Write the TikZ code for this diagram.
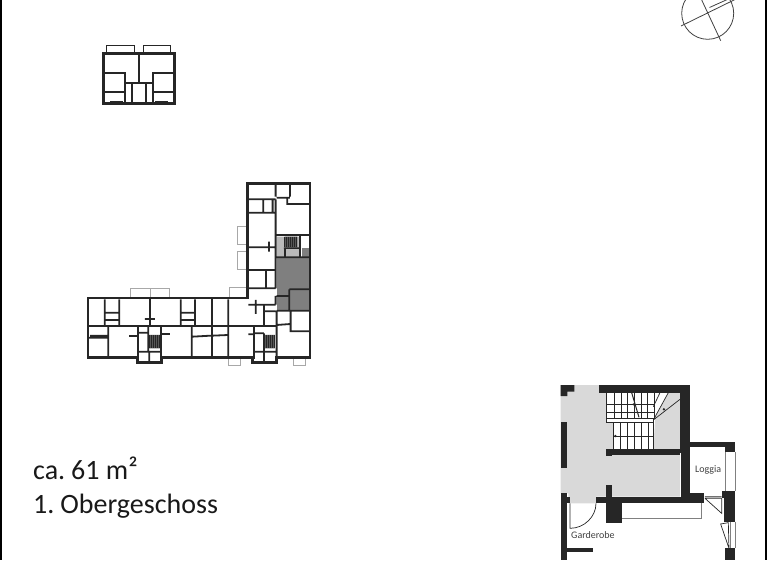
\documentclass[tikz,border=0pt]{standalone}
\usepackage{fontspec}
\setmainfont{Carlito}
\definecolor{wall}{HTML}{262626}
\definecolor{dk}{HTML}{7F7F7F}
\definecolor{lg}{HTML}{D9D9D9}
\definecolor{mg}{HTML}{B9B9B9}
\definecolor{bal}{HTML}{A8A8A8}
\tikzset{
 outer/.style={draw=wall,line width=2.8pt,line cap=rect},
 inner/.style={draw=wall,line width=1.8pt},
 balc/.style={draw=bal,line width=.9pt},
 thinb/.style={draw=wall,line width=.7pt},
 blk/.style={fill=wall,draw=none},
 big/.style={font=\fontsize{28}{28}\selectfont,anchor=base west,inner sep=0pt,text=black!90},
 small/.style={font=\fontsize{10}{10}\selectfont,text=black!75,anchor=base west,inner sep=0pt}
}
\begin{document}
\begin{tikzpicture}[x=1pt,y=-1pt]
\useasboundingbox (0,0) rectangle (768,560);
\clip (0,0) rectangle (768,560);
\draw[black,line width=1.2pt] (1,0)--(1,560) (766,0)--(766,560);
% compass
\draw[draw=black!75,line width=.8pt] (707.7,13.3) circle (26);
\draw[draw=black!75,line width=.8pt] (681,26)--(736,-1) (701.7,0)--(720.7,40.7) (709.5,7.5)--(735,-4);
% text
\node[big] (area) at (33,479) {ca.\hspace{-2.5pt} 61 m\raisebox{1pt}{²}};
\node[big] (floor) at (33,513) {1.\hspace{-2.5pt} Obergeschoss};
% small plan
\begin{scope}[shift={(90,35)},x=.3333pt,y=-.3333pt]
\draw[draw=wall,line width=1pt] (51,55)--(51,31)--(134,31)--(134,55) (160,55)--(160,31)--(243,31)--(243,55);
\draw[outer,line width=2.4pt] (40,55) rectangle (253,205);
\draw[inner] (146,55)--(146,143) (105,143)--(188,143) (46,113)--(105,113)--(105,205) (188,205)--(188,113)--(248,113)
 (46,170)--(105,170) (188,170)--(248,170) (127,143)--(127,205) (167,143)--(167,205);
\draw[outer,line width=2.4pt] (65,202)--(95,202) (200,202)--(230,202);
\end{scope}
% key plan
\begin{scope}[shift={(80,170)},x=.3333pt,y=-.3333pt]
\fill[dk] (590,265)--(686,265)--(686,420)--(590,420)--cycle;
\fill[dk] (665,235) rectangle (686,262);
\fill[mg] (590,200) rectangle (615,262) (617,238) rectangle (658,262) (612,200) rectangle (660,235);
\fill[dk!70!black] (614,200) rectangle (652,232) (207,495) rectangle (240,535) (552,495) rectangle (585,535);
\foreach \x in {614,620,...,650}{\draw[wall,line width=.6pt] (\x,200)--(\x,232);}
\foreach \x in {209,215,...,240}{\draw[wall,line width=.6pt] (\x,495)--(\x,535);}
\foreach \x in {554,560,...,585}{\draw[wall,line width=.6pt] (\x,495)--(\x,535);}
\draw[balc] (152,384)--(152,356)--(268,356)--(268,384) (210,356)--(210,384)
 (447,384)--(447,352)--(502,352) (502,170)--(472,170)--(472,222)--(502,222)
 (502,243)--(472,243)--(472,297)--(502,297)
 (445,566)--(445,586)--(482,586)--(482,566) (640,566)--(640,586)--(677,586)--(677,566);
\draw[outer] (502,384)--(502,40)--(690,40)--(690,563)--(590,563)--(590,577)--(518,577)--(518,563)--(245,563)--(245,577)--(172,577)--(172,563)--(24,563)--(24,384)--cycle;
\draw[inner] (505,88)--(587,88) (587,40)--(587,80) (587,88)--(587,195) (590,83)--(630,83) (630,40)--(630,80) (622,83)--(622,102)--(690,102)
 (505,128)--(587,128) (550,88)--(550,128) (578,88)--(578,128) (590,195)--(690,195)
 (505,232)--(587,232) (567,215)--(567,245) (587,195)--(587,355) (505,300)--(587,300) (558,300)--(558,355) (505,355)--(587,355)
 (590,262)--(690,262) (660,195)--(660,262) (628,358)--(690,358) (628,358)--(628,420) (590,378)--(628,378) (590,422)--(690,422)
 (632,422)--(632,484)--(690,484) (590,422)--(590,563) (590,465)--(632,462)
 (505,404)--(587,404) (587,378)--(587,404) (552,404)--(552,468) (552,424)--(587,424) (527,390)--(527,432)
 (612,235)--(660,235) (615,235)--(615,262)
 (24,468)--(590,468) (74,388)--(74,468) (118,388)--(118,468) (74,428)--(118,428) (74,450)--(118,450)
 (210,384)--(210,468) (195,447)--(225,447) (302,388)--(302,468) (345,388)--(345,468) (302,428)--(345,428) (302,450)--(345,450)
 (445,388)--(445,468) (85,468)--(85,560) (24,503)--(85,503) (30,497)--(82,497)
 (177,488)--(205,488) (205,470)--(205,545) (177,545)--(243,545) (208,545)--(208,577)
 (335,470)--(335,560) (338,500)--(393,497) (398,497)--(445,495) (445,470)--(445,560) (505,493)--(522,493)
 (522,545)--(590,545) (552,490)--(552,577) (522,490)--(552,490);
\draw[outer,line width=2.2pt] (395,384)--(395,563) (175,468)--(175,563) (243,468)--(243,563) (522,468)--(522,563) (150,498)--(175,498) (243,493)--(268,493);
\end{scope}
% detail plan
\begin{scope}[shift={(540,370)},x=.3333pt,y=-.3333pt]
\fill[lg] (62,45)--(420,45)--(420,380)--(168,380)--(168,400)--(85,400)--(85,370)--(62,370)--cycle;
\fill[white] (198,68)--(345,68)--(345,150)--(340,238)--(220,238)--(220,158)--(198,158)--cycle;
\fill[white] (345,68)--(385,68)--(340,150)--cycle;
% stairs
\foreach \x in {200,222,243,263,283,303,323,343}{\draw[thinb] (\x,68)--(\x,145);}
\draw[thinb] (200,102)--(343,102) (200,128)--(343,128);
\draw[thinb] (200,145) rectangle (340,158);
\foreach \x in {220,241,262,283,304,325,340}{\draw[thinb] (\x,158)--(\x,238);}
\draw[thinb] (220,198)--(340,198);
\draw[thinb] (340,150)--(385,68) (340,150)--(420,88) (360,68)--(340,110);
\draw[wall,line width=1pt] (275,68)--(297,142);
\fill[wall] (372,118) circle (4) (280,103) circle (3.5) (226,198) circle (4);
\fill[blk] (62,45)--(103,45)--(103,65)--(82,65)--(82,78)--(62,78)--cycle;
\fill[blk] (178,45) rectangle (450,68);
\fill[blk] (420,45) rectangle (450,250);
\fill[blk] (423,250) rectangle (450,380);
\fill[blk] (62,155) rectangle (82,295);
\fill[blk] (62,370) rectangle (82,570);
\fill[blk] (82,380) rectangle (90,400);
\fill[blk] (198,238) rectangle (420,255);
\fill[blk] (198,238) rectangle (216,258);
\fill[blk] (168,380) rectangle (493,400);
\fill[blk] (198,346) rectangle (216,380);
\fill[blk] (198,400) rectangle (247,460);
\fill[blk] (445,368) rectangle (493,400);
\fill[blk] (450,215) rectangle (555,232);
\fill[blk] (555,215) rectangle (585,247);
\fill[blk] (552,362) rectangle (585,455);
\fill[blk] (545,362) rectangle (552,385);
\fill[blk] (555,535) rectangle (585,570);
\fill[blk] (82,533) rectangle (160,545);
\draw[draw=black!50,line width=.8pt] (247,445)--(485,445)--(485,400) (555,247)--(555,362) (585,247)--(585,362) (572,455)--(572,535) (585,455)--(585,535);
\draw[thinb] (90,400)--(90,475) .. controls (133,475) and (168,440) .. (168,400);
\draw[thinb] (495,385)--(545,430)--(545,385) (495,380)--(545,380) (495,385)--(545,385);
\draw[thinb] (542,462)--(565,458)--(567,535)--cycle;
\node[small] (loggia) at (465,307) {Loggia};
\node[small] (garde) at (93,506) {Garderobe};
\end{scope}
\end{tikzpicture}
\end{document}
